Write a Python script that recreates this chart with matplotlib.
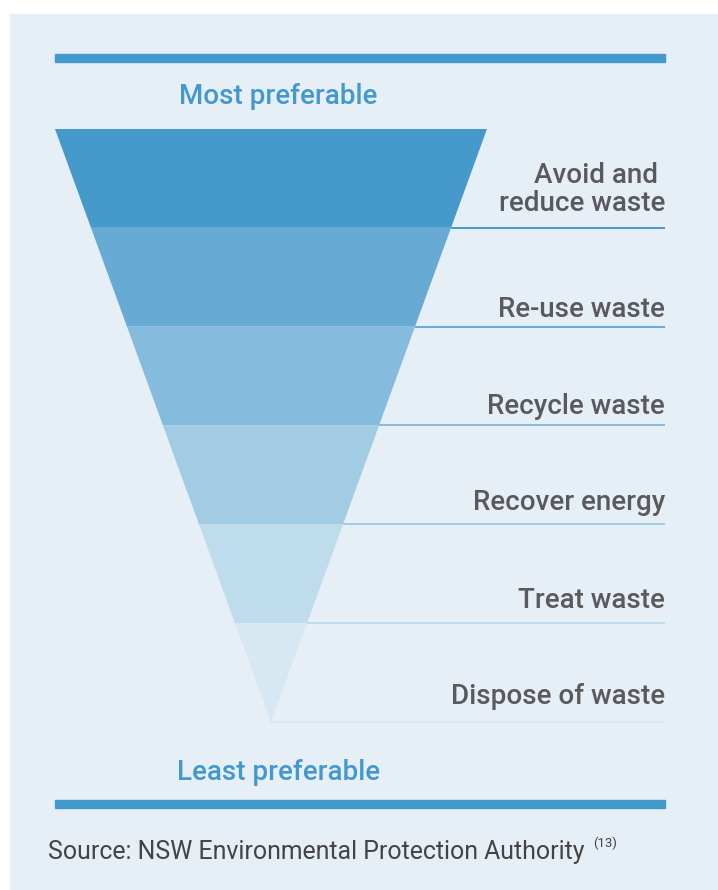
import matplotlib.pyplot as plt
from matplotlib.patches import Rectangle, Polygon

# waste hierarchy, most preferable first
levels = ["Avoid and \nreduce waste", "Re-use waste", "Recycle waste",
          "Recover energy", "Treat waste", "Dispose of waste"]
band_colors = ["#4599cb", "#67abd5", "#85bbdd", "#a2cbe4", "#bedcec", "#d8e8f2"]
top_label = "Most preferable"
bottom_label = "Least preferable"
source = "Source: NSW Environmental Protection Authority"
ref = "(13)"

W, H = 718, 890
plt.rcParams['font.family'] = ['Roboto', 'DejaVu Sans']
fig = plt.figure(figsize=(W / 100, H / 100), dpi=100)
ax = fig.add_axes([0, 0, 1, 1])
ax.set_xlim(0, W)
ax.set_ylim(H, 0)
ax.axis('off')

blue = "#4499cc"
grey = "#5a5a5c"

# panel background
ax.add_patch(Rectangle((10, 14), W - 10, H - 14, color="#e6eef6", zorder=0))

# rule bars
ax.add_patch(Rectangle((55, 54), 610, 8, color=blue))
ax.add_patch(Rectangle((55, 800), 610, 8, color=blue))

# funnel
x_left, x_right, y_top, y_apex = 55, 487, 129, 722
xc = (x_left + x_right) / 2
half = (x_right - x_left) / 2
n = len(levels)
step = (y_apex - y_top) / n
# gap between label baseline and its rule (px)
gaps = [17, 9.5, 11.5, 14, 15.5, 17.5]

def half_w(y):
    return half * (y_apex - y) / (y_apex - y_top)

for i, (lab, col) in enumerate(zip(levels, band_colors)):
    y0 = y_top + i * step
    y1 = y0 + step
    pts = [(xc - half_w(y0), y0), (xc + half_w(y0), y0),
           (xc + half_w(y1), y1), (xc - half_w(y1), y1)]
    ax.add_patch(Polygon(pts, closed=True, color=col, lw=0))
    ax.plot([xc + half_w(y1), 665], [y1, y1], color=col, lw=1.4,
            solid_capstyle='butt')
    lines = lab.split("\n")
    for j, line in enumerate(reversed(lines)):
        ax.text(665, y1 - gaps[i] - 28 * j, line, ha='right', va='baseline',
                fontsize=20, color=grey, fontweight='medium')

ax.text(278, 96, top_label, ha='center', va='center', fontsize=20,
        color=blue, fontweight='medium')
ax.text(279, 773, bottom_label, ha='center', va='center', fontsize=20,
        color=blue, fontweight='medium')

t = ax.text(48, 852, source, ha='left', va='center', fontsize=17.9,
            color="#444444")
fig.canvas.draw()
bb = t.get_window_extent()
ax.text(bb.x1 + 9, 843, ref, ha='left', va='center', fontsize=9.5,
        color="#444444")

fig.savefig("out.png", dpi=100)
